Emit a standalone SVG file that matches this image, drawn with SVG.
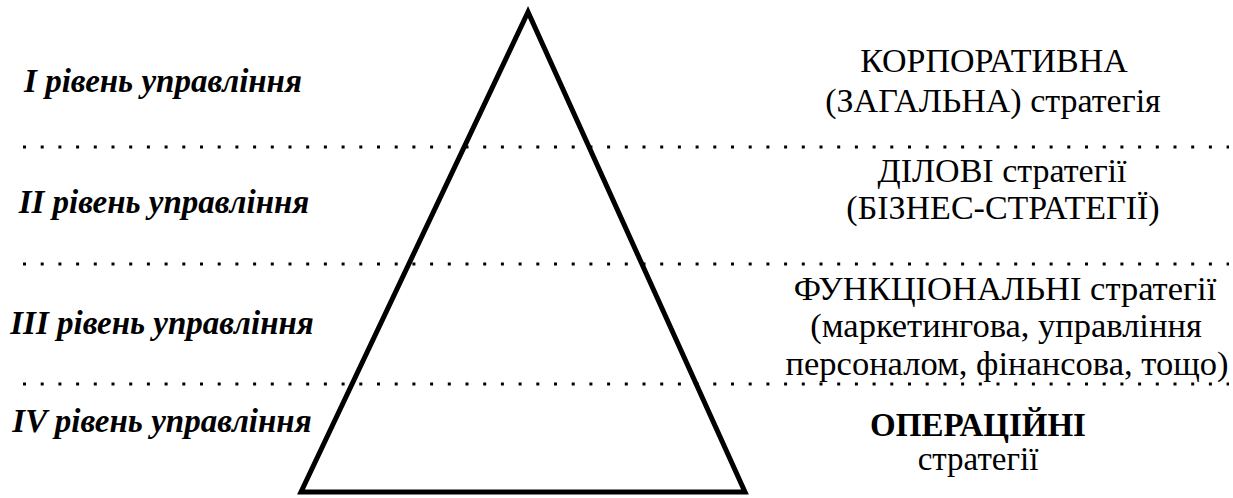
<svg xmlns="http://www.w3.org/2000/svg" width="1233" height="498" viewBox="0 0 1233 498">
<style>
.dots{stroke:#000;stroke-width:3;stroke-dasharray:3 14.7;fill:none}
</style>
<rect width="1233" height="498" fill="#fff"/>
<g id="connectors">
<line class="dots" x1="23" y1="147" x2="1229" y2="147"/>
<line class="dots" x1="23" y1="264" x2="1229" y2="264"/>
<line class="dots" x1="23" y1="384" x2="1229" y2="384"/>
</g>
<g id="pyramid">
<polygon points="528,12 301,492 745,492" fill="none" stroke="#000" stroke-width="5" stroke-linejoin="miter"/>
</g>
<g id="level1">
<text x="163" y="92" font-family="Liberation Serif" font-size="33" text-anchor="middle" font-weight="bold" font-style="italic">I рівень управління</text>
<text x="994" y="72" font-family="Liberation Serif" font-size="34" text-anchor="middle">КОРПОРАТИВНА</text>
<text x="993" y="112" font-family="Liberation Serif" font-size="34" text-anchor="middle">(ЗАГАЛЬНА) стратегія</text>
</g>
<g id="level2">
<text x="164" y="213" font-family="Liberation Serif" font-size="33" text-anchor="middle" font-weight="bold" font-style="italic">II рівень управління</text>
<text x="1002" y="182" font-family="Liberation Serif" font-size="34" text-anchor="middle">ДІЛОВІ стратегії</text>
<text x="1003" y="219" font-family="Liberation Serif" font-size="34" text-anchor="middle">(БІЗНЕС-СТРАТЕГІЇ)</text>
</g>
<g id="level3">
<text x="162" y="334" font-family="Liberation Serif" font-size="33" text-anchor="middle" font-weight="bold" font-style="italic">III рівень управління</text>
<text x="1005" y="300" font-family="Liberation Serif" font-size="34.5" text-anchor="middle">ФУНКЦІОНАЛЬНІ стратегії</text>
<text x="1006" y="337" font-family="Liberation Serif" font-size="34.5" text-anchor="middle">(маркетингова, управління</text>
<text x="1007" y="375" font-family="Liberation Serif" font-size="34.5" text-anchor="middle">персоналом, фінансова, тощо)</text>
</g>
<g id="level4">
<text x="162" y="432" font-family="Liberation Serif" font-size="33" text-anchor="middle" font-weight="bold" font-style="italic">IV рівень управління</text>
<text x="978" y="436" font-family="Liberation Serif" font-size="33" text-anchor="middle" font-weight="bold">ОПЕРАЦІЙНІ</text>
<text x="978" y="470" font-family="Liberation Serif" font-size="33" text-anchor="middle">стратегії</text>
</g>
</svg>
